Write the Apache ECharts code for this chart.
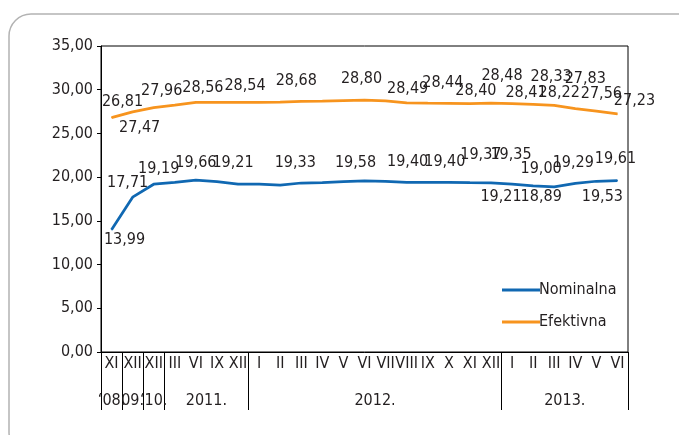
<!DOCTYPE html>
<html lang="hr">
<head>
<meta charset="UTF-8">
<title>Kamatne stope</title>
<script src="https://cdn.jsdelivr.net/npm/echarts@6/dist/echarts.min.js"></script>
<style>
  html, body { margin: 0; padding: 0; background: #fff; }
  #main { width: 679px; height: 435px; }
</style>
</head>
<body>
<div id="main"></div>
<script type="text/javascript">
// mjeseci na osi x
var months = ['XI','XII','XII','III','VI','IX','XII','I','II','III','IV','V','VI','VII','VIII','IX','X','XI','XII','I','II','III','IV','V','VI'];
// godine ispod mjeseci
var years = ['\u201808.','09.','\u201810.','2011.','2012.','2013.'];
var yearCenters = [0.5, 1.5, 2.5, 5, 13, 22];
var yearBreaks = [0, 1, 2, 3, 7, 19, 25];

var nominalna = [13.99,17.71,19.19,19.40,19.66,19.50,19.21,19.20,19.10,19.33,19.36,19.50,19.58,19.52,19.40,19.40,19.40,19.37,19.35,19.21,19.00,18.89,19.29,19.53,19.61];
var efektivna = [26.81,27.47,27.96,28.25,28.56,28.55,28.54,28.55,28.58,28.68,28.70,28.75,28.80,28.72,28.49,28.46,28.44,28.40,28.48,28.41,28.33,28.22,27.83,27.56,27.23];

// pomak oznaka (samo za oznacene tocke)
var nomOffsets = {0:[13,10],1:[-5,-14],2:[5,-15],4:[0,-17],6:[-5,-21],9:[-6,-20],12:[-9,-18],14:[1,-21],16:[-4,-21],
  17:[11,-28],18:[20,-28],19:[-11,13],20:[8,-17],21:[-13,10],22:[-2,-21],23:[6,16],24:[-2,-22]};
var efOffsets = {0:[11,-16],1:[7,16],2:[8,-17],4:[7,-14],6:[7,-17],9:[-5,-20],12:[-3,-21],14:[1,-14],16:[-6,-21],
  17:[6,-13],18:[11,-27],19:[14,-11],20:[18,-27],21:[5,-12],22:[10,-30],23:[5,-17],24:[17,-13]};

var font = "'Liberation Sans Narrow', 'DejaVu Sans Condensed', 'Roboto', sans-serif";
var txt = '#231f20';

function fmt(v) { return v.toFixed(2).replace('.', ','); }

function build(values, offsets) {
  var out = [];
  for (var i = 0; i < values.length; i++) {
    out.push({
      value: values[i],
      label: { show: offsets[i] != null, offset: offsets[i] || [0, 0] }
    });
  }
  return out;
}

// kratke godine (jedan mjesec) idu na kategorijsku os, duge na vrijednosnu
var shortYears = months.map(function () { return ''; });
var longCenters = [];
for (var k = 0; k < years.length; k++) {
  if (yearCenters[k] % 1 === 0.5) shortYears[Math.floor(yearCenters[k])] = years[k];
  else longCenters.push(yearCenters[k]);
}

var myChart = echarts.init(document.getElementById('main'));
var option = {
  animation: false,
  textStyle: { fontFamily: font },
  graphic: [{
    type: 'rect',
    shape: { x: 9, y: 14, width: 690, height: 440, r: 22 },
    style: { fill: 'none', stroke: '#b3b3b3', lineWidth: 1.5 },
    silent: true
  }],
  grid: {
    left: 101, right: 51, top: 46, bottom: 83,
    show: true, borderColor: '#000', borderWidth: 1
  },
  legend: {
    orient: 'vertical',
    left: 497, top: 277,
    icon: 'rect',
    itemWidth: 38, itemHeight: 3, itemGap: 16,
    textStyle: { fontFamily: font, fontSize: 16, color: txt, padding: [0, 0, 0, -6] },
    data: ['Nominalna', 'Efektivna']
  },
  xAxis: [{
    type: 'category',
    data: months,
    axisLine: { lineStyle: { color: '#000', width: 1 } },
    axisTick: { inside: true, length: 4, interval: 0, lineStyle: { color: '#000' } },
    axisLabel: { interval: 0, margin: 4, fontSize: 16, color: txt, fontFamily: font, hideOverlap: false },
    splitLine: { show: false }
  }, {
    type: 'value',
    min: 0, max: 25,
    position: 'bottom',
    axisLine: { show: false },
    axisTick: { show: true, customValues: yearBreaks, length: 58, lineStyle: { color: '#000', width: 1 } },
    axisLabel: {
      customValues: longCenters, margin: 41, fontSize: 16, color: txt, fontFamily: font,
      formatter: function (v) { return years[yearCenters.indexOf(v)]; }
    },
    splitLine: { show: false }
  }, {
    type: 'category',
    data: shortYears,
    position: 'bottom',
    axisLine: { show: false },
    axisTick: { show: false },
    axisLabel: { interval: 0, margin: 41, fontSize: 16, color: txt, fontFamily: font, hideOverlap: false }
  }],
  yAxis: {
    type: 'value',
    min: 0, max: 35, interval: 5,
    axisLine: { show: true, lineStyle: { color: '#000', width: 1 } },
    axisTick: { show: true, length: 4, lineStyle: { color: '#000' } },
    axisLabel: { margin: 8, fontSize: 16, color: txt, fontFamily: font, formatter: fmt },
    splitLine: { show: false }
  },
  series: [{
    name: 'Nominalna',
    type: 'line',
    data: build(nominalna, nomOffsets),
    symbol: 'circle', symbolSize: 1,
    itemStyle: { color: '#1068b2' },
    lineStyle: { color: '#1068b2', width: 2.75 },
    label: { position: 'inside', fontSize: 16, color: txt, fontFamily: font,
      formatter: function (p) { return fmt(p.value); } }
  }, {
    name: 'Efektivna',
    type: 'line',
    data: build(efektivna, efOffsets),
    symbol: 'circle', symbolSize: 1,
    itemStyle: { color: '#f7941e' },
    lineStyle: { color: '#f7941e', width: 2.75 },
    label: { position: 'inside', fontSize: 16, color: txt, fontFamily: font,
      formatter: function (p) { return fmt(p.value); } }
  }]
};
myChart.setOption(option);
</script>
</body>
</html>
